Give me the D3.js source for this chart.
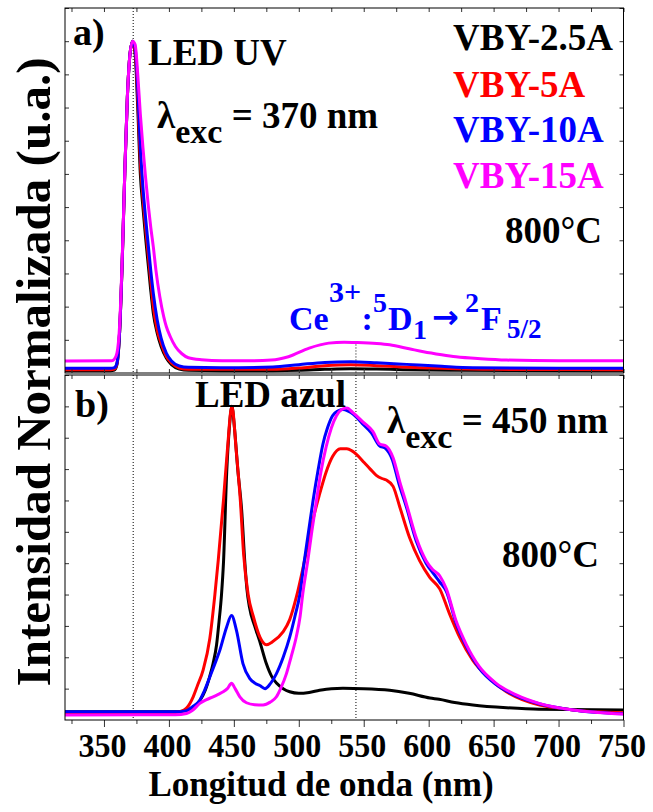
<!DOCTYPE html>
<html><head><meta charset="utf-8">
<script src="https://cdn.jsdelivr.net/npm/d3@7"></script>
<style>
body{margin:0;background:#fff;}
svg{display:block;}
svg text{font-family:"Liberation Serif","Times New Roman",Tinos,Times,serif;font-weight:bold;}
</style></head>
<body><svg id="c" width="653" height="812"></svg>
<script>
// ---- data ----
const seriesNames = ["VBY-2.5A","VBY-5A","VBY-10A","VBY-15A"];
const seriesColors = ["#000000","#ff0000","#0000ff","#ff00ff"];
const xTickLabels = [350,400,450,500,550,600,650,700,750];
const refLines = [372.5,544];

// panel a: excitation 370 nm  [wavelength, normalized intensity]
const aBlack = [[320,.007],[355,.007],[358,.009],[360,.025],[362,.12],[364,.33],[366,.6],[368,.83],[370,.96],[372,1.0],[374,.96],[376,.8],[378,.6],[380,.5],[382,.41],[384,.33],[386,.25],[388,.18],[391,.12],[394,.08],[398,.045],[402,.025],[408,.012],[415,.008],[440,.007],[480,.007],[500,.008],[520,.011],[540,.013],[560,.012],[580,.01],[620,.008],[750,.007]];
const aRed = [[320,.01],[355,.01],[358,.012],[360,.028],[362,.12],[364,.33],[366,.6],[368,.83],[370,.96],[372,1.0],[374,.97],[376,.83],[378,.64],[380,.53],[382,.44],[384,.36],[386,.28],[388,.2],[391,.13],[394,.09],[398,.05],[402,.03],[408,.015],[415,.011],[480,.011],[500,.015],[520,.022],[540,.025],[560,.022],[580,.018],[610,.014],[650,.011],[750,.01]];
const aBlue = [[320,.014],[355,.014],[358,.016],[360,.03],[362,.12],[364,.33],[366,.6],[368,.83],[370,.96],[372,1.0],[374,.98],[376,.86],[378,.68],[380,.56],[382,.47],[384,.39],[386,.31],[388,.24],[391,.16],[394,.105],[398,.06],[402,.036],[408,.021],[415,.017],[440,.016],[480,.018],[500,.025],[520,.032],[540,.034],[560,.031],[583,.026],[610,.02],[634,.016],[700,.014],[750,.014]];
const aMagenta = [[320,.036],[356,.037],[358,.042],[360,.06],[362,.14],[364,.34],[366,.6],[368,.83],[370,.96],[372,1.0],[374,.99],[376,.9],[378,.78],[380,.68],[382,.59],[384,.51],[386,.44],[388,.38],[390,.31],[393,.23],[396,.17],[398,.14],[401,.11],[405,.08],[410,.058],[415,.046],[425,.04],[441,.037],[460,.037],[479,.039],[492,.049],[508,.075],[523,.09],[535,.093],[545,.092],[560,.089],[570,.085],[585,.073],[596,.064],[610,.055],[621,.049],[640,.043],[660,.039],[700,.037],[750,.037]];

// panel b: excitation 450 nm
const bBlack = [[320,.026],[405,.026],[410,.028],[414,.031],[419,.042],[424,.063],[428,.095],[431.5,.14],[434,.18],[436.7,.24],[438.5,.31],[440.5,.4],[442,.5],[444.5,.79],[446.5,.93],[448.5,1.0],[450.5,.93],[453,.8],[456,.67],[458.5,.5],[460,.42],[462,.36],[466,.3],[470,.25],[475,.18],[479,.14],[483,.117],[488,.1],[493,.09],[500,.085],[508,.088],[516,.095],[525,.1],[534,.101],[550,.1],[570,.095],[585,.085],[601,.07],[608,.066],[620,.056],[634,.048],[660,.039],[685,.034],[750,.032]];
const bRed = [[320,.023],[405,.024],[410,.028],[413.6,.038],[418.7,.074],[422,.11],[426.4,.16],[431.5,.26],[435.4,.4],[438,.51],[442,.7],[445,.86],[448.5,1.0],[452,.85],[455,.7],[457.5,.53],[461,.4],[465,.33],[470,.265],[475,.24],[480,.25],[487.7,.28],[493,.32],[498,.39],[503,.48],[507,.56],[511,.64],[516,.72],[521,.79],[526,.84],[532,.865],[537,.865],[541,.858],[544.4,.847],[550.5,.82],[555,.8],[559.7,.78],[564,.77],[567.4,.765],[572.6,.745],[577.7,.68],[585.4,.58],[593,.508],[600.8,.455],[608.5,.418],[616,.339],[623.8,.264],[634,.19],[647,.132],[659.8,.09],[672,.065],[685.4,.048],[700,.038],[711,.032],[730,.026],[750,.023]];
const bBlue = [[320,.026],[405,.026],[413.6,.03],[418,.042],[423.8,.063],[427,.09],[431.5,.137],[435,.175],[439.2,.222],[444.4,.296],[448.2,.333],[452,.286],[457,.18],[462.3,.132],[466,.118],[470,.11],[474,.1],[478,.115],[482.8,.148],[488,.2],[493,.264],[497,.33],[500.8,.4],[504,.5],[507.5,.6],[511,.7],[515,.8],[518.6,.88],[522,.93],[526,.97],[530,.985],[534,.99],[538,.985],[542,.975],[549,.945],[556,.915],[562,.875],[567,.865],[572,.83],[577,.755],[582.8,.68],[590.5,.57],[598,.5],[604,.465],[608.5,.44],[613.6,.41],[621,.31],[628.7,.237],[639,.165],[652,.113],[667,.078],[685,.052],[711,.032],[750,.02]];
const bMagenta = [[320,.016],[405,.017],[413.6,.021],[418,.03],[423.8,.053],[429,.065],[434,.074],[438,.082],[441.8,.09],[445,.1],[448.2,.117],[451,.1],[454.6,.074],[459.7,.055],[466,.049],[472.5,.048],[478,.057],[482.8,.074],[486,.1],[490.5,.148],[494,.2],[498,.264],[501,.33],[503,.4],[507,.51],[510,.6],[513.6,.7],[517,.79],[521,.87],[525,.93],[529,.97],[533,.99],[537,.995],[541.7,.98],[549.5,.95],[557,.92],[562.3,.88],[567.4,.873],[572.6,.836],[577.7,.76],[582.8,.69],[590.5,.58],[598,.508],[603,.48],[608.5,.46],[613.6,.418],[621,.317],[628.7,.243],[639,.17],[652,.117],[667.4,.08],[685,.053],[711,.032],[730,.024],[750,.019]];

const panelA = [aBlack,aRed,aBlue,aMagenta];
const panelB = [bBlack,bRed,bBlue,bMagenta];

// ---- layout ----
const svg = d3.select("#c");
const L = 65, R = 623.5;
const x = d3.scaleLinear().domain([320,750]).range([L,R]);
const yA = d3.scaleLinear().domain([0,1.1]).range([373,8]);
const yB = d3.scaleLinear().domain([0,1.1]).range([720,375]);
const yTicks = d3.range(0.1,1.1001,0.1);
const minorX = d3.range(325,751,25);

function bare(sel){ sel.select(".domain").remove(); sel.selectAll("text").remove(); sel.selectAll(".tick line").attr("stroke","#333"); return sel; }

function panel(y, data, bottomLabels, refTop){
  const top = y.range()[1], bot = y.range()[0];
  const g = svg.append("g");
  refLines.forEach((w,i)=>{
    const y0 = (i===1 && refTop!=null) ? y(refTop) : top;
    g.append("line").attr("x1",x(w)).attr("x2",x(w)).attr("y1",y0).attr("y2",bot)
      .attr("stroke","#000").attr("stroke-width",1).attr("stroke-dasharray","1,2");
  });
  const line = d3.line().x(d=>x(d[0])).y(d=>y(d[1])).curve(d3.curveMonotoneX);
  data.forEach((s,i)=>{
    g.append("path").datum(s).attr("d",line).attr("fill","none")
      .attr("stroke",seriesColors[i]).attr("stroke-width",3).attr("stroke-linejoin","round");
  });
  bare(svg.append("g").attr("transform",`translate(0,${top})`)
    .call(d3.axisBottom(x).tickValues(minorX).tickSize(4)));
  bare(svg.append("g").attr("transform",`translate(${L},0)`)
    .call(d3.axisRight(y).tickValues(yTicks).tickSize(4)));
  bare(svg.append("g").attr("transform",`translate(${R},0)`)
    .call(d3.axisLeft(y).tickValues(yTicks).tickSize(4)));
  if(bottomLabels){
    bare(svg.append("g").attr("transform",`translate(0,${bot})`)
      .call(d3.axisBottom(x).tickValues(minorX.filter(v=>v%50!==0)).tickSize(4)));
    const major = svg.append("g").attr("transform",`translate(0,${bot})`)
      .call(d3.axisBottom(x).tickValues(xTickLabels).tickSize(7).tickFormat(d3.format("d")));
    major.attr("font-family",null).attr("font-size",null);
    major.selectAll("text").attr("y",37).attr("dy",0).attr("dx",-2)
      .attr("font-size",33).attr("fill","#000")
      .attr("textLength",48).attr("lengthAdjust","spacingAndGlyphs");
    major.select(".domain").remove();
    major.selectAll(".tick line").attr("stroke","#333");
  } else {
    bare(svg.append("g").attr("transform",`translate(0,${bot})`)
      .call(d3.axisTop(x).tickValues(minorX).tickSize(4)));
  }
  svg.append("rect").attr("x",L).attr("y",top).attr("width",R-L).attr("height",bot-top)
    .attr("fill","none").attr("stroke","#000").attr("stroke-width",1);
}
panel(yA, panelA, false, 0.095);
panel(yB, panelB, true, null);

// ---- text ----
function txt(s, x0, y0, size, color, anchor){
  return svg.append("text").attr("x",x0).attr("y",y0).attr("font-size",size)
    .attr("fill",color||"#000").attr("text-anchor",anchor||"start").text(s);
}
// panel a
txt("a)",73,45,38);
txt("LED UV",148,65,37);
const l1 = svg.append("text").attr("x",157).attr("y",128).attr("font-size",37);
l1.append("tspan").text("λ");
l1.append("tspan").attr("dy",15).attr("font-size",34).text("exc");
l1.append("tspan").attr("dy",-15).text(" = 370 nm");
const legY = [50,96.7,141.7,188.3];
seriesNames.forEach((n,i)=>txt(n,453,legY[i],37,seriesColors[i]));
txt("800°C",505,243,37);
const blue = "#0000ff";
txt("Ce",289,330,34,blue);
txt("3+",329,302,30,blue);
txt(":",361.5,330,34,blue);
txt("5",373,312,28,blue);
txt("D",388,330,34,blue);
txt("1",413,339,28,blue);
txt("→",432,328,32,blue).style("font-family","'DejaVu Sans'");
txt("2",465,312,28,blue);
txt("F",481,330,34,blue);
txt("5/2",507,338,27,blue);

// panel b
txt("b)",75,417,38);
txt("LED azul",195,407,37);
const l2 = svg.append("text").attr("x",387).attr("y",433).attr("font-size",37);
l2.append("tspan").text("λ");
l2.append("tspan").attr("dy",15).attr("font-size",34).text("exc");
l2.append("tspan").attr("dy",-15).text(" = 450 nm");
txt("800°C",502,567,37);

txt("Longitud de onda (nm)",321,796,35,"#000","middle");
svg.append("text").attr("transform","translate(50,372) rotate(-90)")
  .attr("text-anchor","middle").attr("font-size",49).text("Intensidad Normalizada (u.a.)");
</script>
</body></html>
